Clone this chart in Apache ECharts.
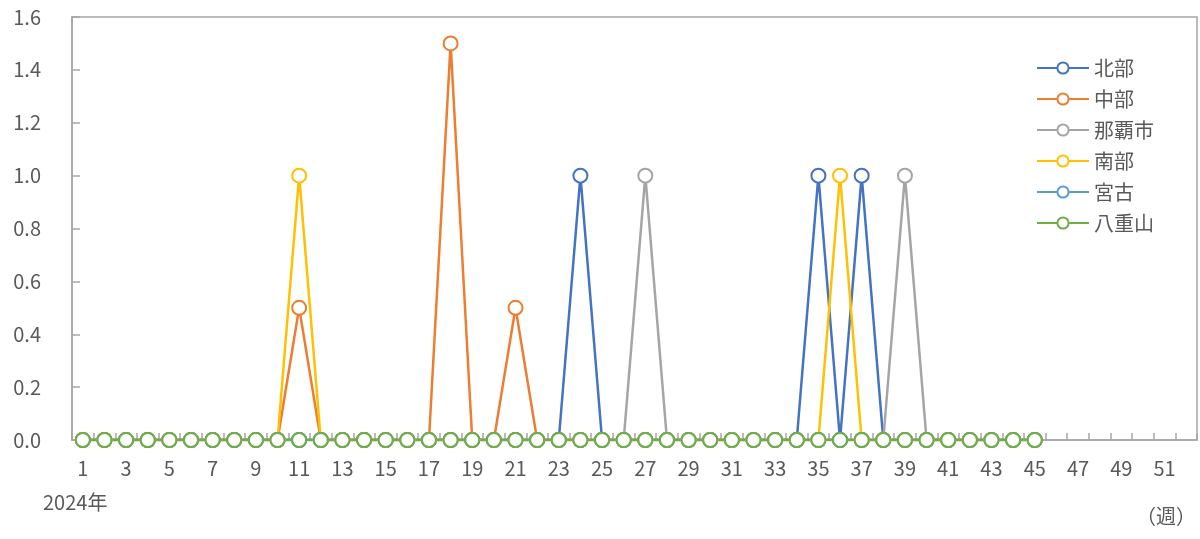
<!DOCTYPE html>
<html>
<head>
<meta charset="utf-8">
<script src="https://cdn.jsdelivr.net/npm/echarts@6/dist/echarts.min.js"></script>
<style>
  html, body { margin: 0; padding: 0; background: #fff; }
  #chart { width: 1200px; height: 539px; }
</style>
</head>
<body>
<div id="chart"></div>
<script>
// weeks 1..52 on the axis, data up to week 45
const weeks = Array.from({ length: 52 }, (_, i) => String(i + 1));

const zeros45 = () => new Array(45).fill(0);

// 北部
const hokubu = zeros45();
hokubu[23] = 1.0; hokubu[34] = 1.0; hokubu[36] = 1.0;
// 中部
const chubu = zeros45();
chubu[10] = 0.5; chubu[17] = 1.5; chubu[20] = 0.5;
// 那覇市
const naha = zeros45();
naha[26] = 1.0; naha[38] = 1.0;
// 南部
const nanbu = zeros45();
nanbu[10] = 1.0; nanbu[35] = 1.0;
// 宮古, 八重山 all zero
const miyako = zeros45();
const yaeyama = zeros45();

const seriesNames = ["北部", "中部", "那覇市", "南部", "宮古", "八重山"];
const seriesData = [hokubu, chubu, naha, nanbu, miyako, yaeyama];
const colors = ["#4472C4", "#ED7D31", "#A5A5A5", "#FFC000", "#5B9BD5", "#70AD47"];

const font = "'Noto Sans CJK JP', 'Noto Sans', sans-serif";
const axisGray = "#A6A6A6";
const textGray = "#595959";

var chart = echarts.init(document.getElementById("chart"));

var option = {
  animation: false,
  color: colors,
  grid: {
    left: 72, right: 3, top: 17, bottom: 99,
    show: true, borderColor: axisGray, borderWidth: 1.5,
  },
  legend: {
    orient: "vertical",
    left: 1031, top: 53,
    itemWidth: 52, itemHeight: 14, itemGap: 11,
    data: seriesNames,
    textStyle: { fontFamily: font, fontSize: 20, color: textGray },
  },
  xAxis: {
    type: "category",
    data: weeks,
    boundaryGap: true,
    axisLine: { lineStyle: { color: axisGray, width: 1.5 } },
    axisTick: { show: true, interval: 0, inside: true, length: 7, lineStyle: { color: axisGray, width: 1.5 } },
    axisLabel: { interval: 1, margin: 18, fontFamily: font, fontSize: 20, color: textGray },
    splitLine: { show: false },
  },
  yAxis: {
    type: "value",
    min: 0, max: 1.6, interval: 0.2,
    axisLine: { show: true, lineStyle: { color: axisGray, width: 1.5 } },
    axisTick: { show: true, inside: true, length: 8, lineStyle: { color: axisGray, width: 1.5 } },
    axisLabel: {
      margin: 31, fontFamily: font, fontSize: 20, color: textGray,
      formatter: (v) => v.toFixed(1),
    },
    splitLine: { show: false },
  },
  graphic: [
    { type: "text", left: 43, top: 492, style: { text: "2024年", font: "20px " + font, fill: textGray } },
    { type: "text", left: 1136, top: 506, style: { text: "（週）", font: "20px " + font, fill: textGray } },
  ],
  series: seriesNames.map((name, i) => ({
    name: name,
    type: "line",
    data: seriesData[i],
    symbol: "circle",
    symbolSize: 14,
    showAllSymbol: true,
    lineStyle: { width: 2.5, color: colors[i] },
    itemStyle: { color: "#fff", borderColor: colors[i], borderWidth: 2 },
  })),
};

option && chart.setOption(option);
</script>
</body>
</html>
